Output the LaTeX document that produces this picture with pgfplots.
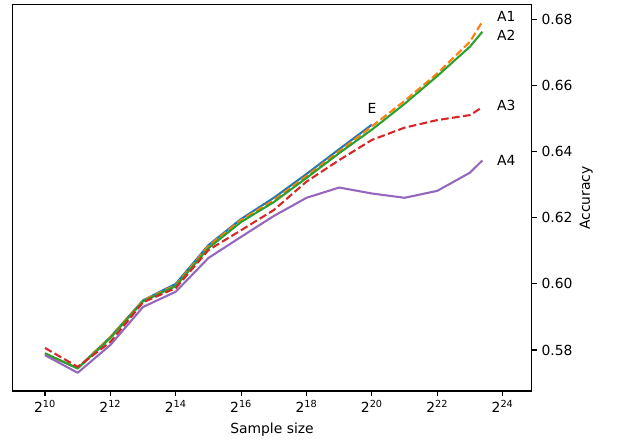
\documentclass[border=0pt]{standalone}
\usepackage{pgfplots}
\pgfplotsset{compat=1.18}
\usepackage{fontspec}
\setmainfont{DejaVu Sans}
\definecolor{c0}{HTML}{1F77B4}
\definecolor{c1}{HTML}{FF7F0E}
\definecolor{c2}{HTML}{2CA02C}
\definecolor{c3}{HTML}{D62728}
\definecolor{c4}{HTML}{9467BD}
\begin{document}
\begin{tikzpicture}
\useasboundingbox (-8.86pt,-36pt) rectangle (436.1pt,281.5pt);
\begin{axis}[
  at={(0,0)}, anchor=south west,
  scale only axis, width=374pt, height=278pt,
  xmin=9, xmax=24.89, ymin=0.5676, ymax=0.68433,
  xtick={10,12,14,16,18,20,22,24},
  xticklabels={2\textsuperscript{10},2\textsuperscript{12},2\textsuperscript{14},2\textsuperscript{16},2\textsuperscript{18},2\textsuperscript{20},2\textsuperscript{22},2\textsuperscript{24}},
  ytick={0.58,0.60,0.62,0.64,0.66,0.68},
  yticklabel pos=right, ytick pos=right, xtick pos=bottom,
  tick align=outside, major tick length=3.5pt,
  every tick/.style={black, line width=0.8pt},
  axis line style={line width=0.8pt},
  /pgf/number format/assume math mode=true,
  yticklabel style={/pgf/number format/fixed, /pgf/number format/fixed zerofill, /pgf/number format/precision=2},
  tick label style={font=\fontsize{10}{12}\selectfont},
  xlabel={Sample size},
  xlabel style={at={(axis description cs:0.5,-0.1015)}, anchor=center, font=\fontsize{10}{12}\selectfont},
  clip=false,
  every axis plot/.append style={line width=1.5pt, line join=round},
]
\addplot[c0] coordinates {(10,0.5788) (11,0.5745) (12,0.5839) (13,0.5950) (14,0.6000) (15,0.6117) (16,0.6196) (17,0.6260) (18,0.6332) (19,0.6407) (20,0.6481)};
\addplot[c1, dash pattern=on 5.55pt off 2.4pt] coordinates {(10,0.5788) (11,0.5745) (12,0.5839) (13,0.5950) (14,0.5996) (15,0.6114) (16,0.6193) (17,0.6253) (18,0.6326) (19,0.6401) (20,0.6476) (21,0.6553) (22,0.6636) (23,0.6732) (23.38,0.6793)};
\addplot[c2] coordinates {(10,0.5790) (11,0.5744) (12,0.5836) (13,0.5947) (14,0.5993) (15,0.6108) (16,0.6187) (17,0.6247) (18,0.6320) (19,0.6395) (20,0.6466) (21,0.6544) (22,0.6628) (23,0.6717) (23.38,0.6762)};
\addplot[c3, dash pattern=on 5.55pt off 2.4pt] coordinates {(10,0.5806) (11,0.5749) (12,0.5824) (13,0.5944) (14,0.5987) (15,0.6102) (16,0.6162) (17,0.6223) (18,0.6309) (19,0.6374) (20,0.6435) (21,0.6472) (22,0.6495) (23,0.6510) (23.38,0.6534)};
\addplot[c4] coordinates {(10,0.5784) (11,0.5731) (12,0.5815) (13,0.5930) (14,0.5976) (15,0.6078) (16,0.6142) (17,0.6205) (18,0.6260) (19,0.6291) (20,0.6273) (21,0.6260) (22,0.6281) (23,0.6336) (23.38,0.6373)};
\node[anchor=west, inner sep=0pt, font=\fontsize{10}{12}\selectfont] at (axis cs:23.82,0.6807) {A1};
\node[anchor=west, inner sep=0pt, font=\fontsize{10}{12}\selectfont] at (axis cs:23.82,0.6751) {A2};
\node[anchor=west, inner sep=0pt, font=\fontsize{10}{12}\selectfont] at (axis cs:23.82,0.6539) {A3};
\node[anchor=west, inner sep=0pt, font=\fontsize{10}{12}\selectfont] at (axis cs:23.82,0.6374) {A4};
\node[anchor=center, inner sep=0pt, font=\fontsize{10}{12}\selectfont] at (axis cs:20.0,0.6529) {E};
\node[anchor=center, rotate=90, inner sep=0pt, font=\fontsize{10}{12}\selectfont] at (axis description cs:1.105,0.5) {Accuracy};
\end{axis}
\end{tikzpicture}
\end{document}
